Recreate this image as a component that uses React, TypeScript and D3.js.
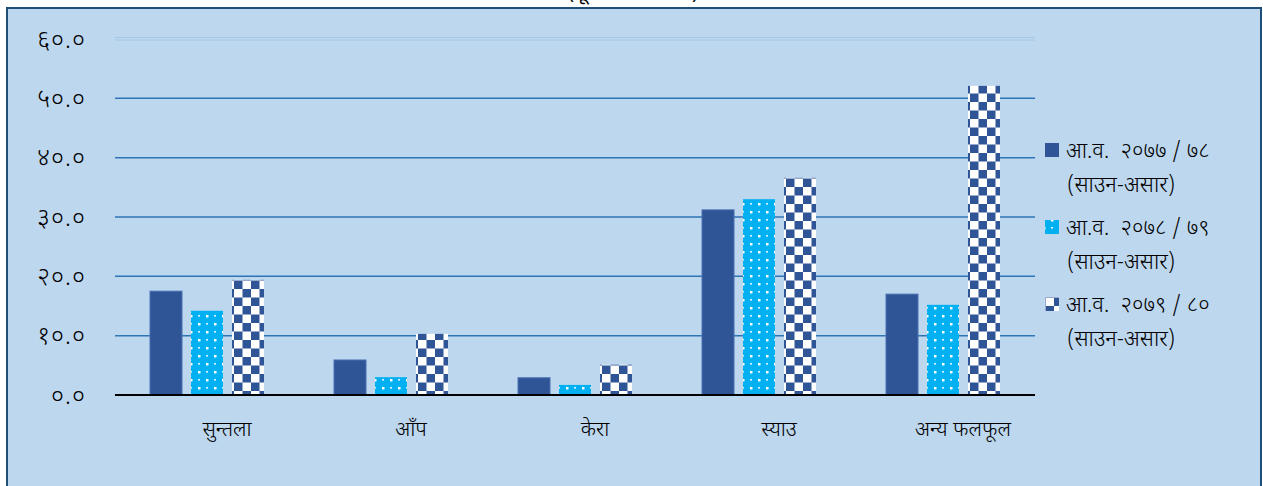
import React from "react";
import * as d3 from "d3";

const categories = ["सुन्तला", "आँप", "केरा", "स्याउ", "अन्य फलफूल"];
const seriesNames = [
  ["आ.व.  २०७७ / ७८", "(साउन-असार)"],
  ["आ.व.  २०७८ / ७९", "(साउन-असार)"],
  ["आ.व.  २०७९ / ८०", "(साउन-असार)"],
];
const series2077 = [17.5, 5.9, 2.9, 31.2, 17.0];
const series2078 = [14.2, 3.0, 1.7, 33.0, 15.2];
const series2079 = [19.4, 10.3, 5.1, 36.6, 52.1];
const yTicks = [0, 10, 20, 30, 40, 50, 60];
const yTickLabels = ["०.०", "१०.०", "२०.०", "३०.०", "४०.०", "५०.०", "६०.०"];

const W = 1263;
const H = 486;
const FONT = "'Noto Sans Devanagari', 'Lohit Devanagari', 'Mangal', 'Noto Sans', sans-serif";

export default function App() {
  const allSeries = [series2077, series2078, series2079];
  const x0 = d3.scaleBand<string>().domain(categories).range([115, 1035]).paddingInner(0).paddingOuter(0);
  const x1 = d3.scaleBand<number>().domain([0, 1, 2]).range([0, x0.bandwidth()]).paddingInner(0.2195).paddingOuter(0.854);
  const y = d3.scaleLinear().domain([0, 60]).range([395, 39]);
  const fills = ["#2F5597", "url(#dots)", "url(#checker)"];

  return (
    <svg width={W} height={H} style={{ position: "absolute", left: 0, top: 0, display: "block" }}>
      <defs>
        <pattern id="dots" patternUnits="userSpaceOnUse" width="16" height="16">
          <rect width="16" height="16" fill="#00B0F0" />
          <rect x="3" y="3" width="2.5" height="2.5" fill="#FFFFFF" />
          <rect x="11" y="11" width="2.5" height="2.5" fill="#FFFFFF" />
          <rect x="11" y="3" width="2" height="1.5" fill="#E8F8FF" />
          <rect x="3" y="11" width="2" height="1.5" fill="#E8F8FF" />
        </pattern>
        <pattern id="checker" patternUnits="userSpaceOnUse" width="17" height="17">
          <rect width="17" height="17" fill="#FFFFFF" />
          <rect x="0" y="8.5" width="8.5" height="8.5" fill="#2F5597" />
          <rect x="8.5" y="0" width="8.5" height="8.5" fill="#2F5597" />
        </pattern>
      </defs>
      <rect x={0} y={0} width={W} height={H} fill="#FFFFFF" />
      <text x={633} y={-1} textAnchor="middle" fontFamily={FONT} fontSize={20} fill="#000">(मूल्य रु. करोडमा)</text>
      <rect x={7} y={8} width={1254} height={H} fill="#BDD7EE" stroke="#1F4E79" strokeWidth={2} />

      {yTicks.map((t) =>
        t === 60 ? (
          <g key={t}>
            <line x1={115} x2={1035} y1={y(t) - 1.5} y2={y(t) - 1.5} stroke="#9DC3E6" strokeWidth={0.8} />
            <line x1={115} x2={1035} y1={y(t) + 1} y2={y(t) + 1} stroke="#9DC3E6" strokeWidth={0.8} />
          </g>
        ) : t === 0 ? null : (
          <line key={t} x1={115} x2={1035} y1={y(t)} y2={y(t)} stroke="#2E75B6" strokeWidth={1.5} />
        )
      )}
      {yTicks.map((t, i) => (
        <text key={"l" + t} x={86} y={y(t)} dy="0.35em" textAnchor="end" fontFamily={FONT} fontSize={25} letterSpacing={1} fontWeight={300} fill="#000">
          {yTickLabels[i]}
        </text>
      ))}

      {categories.map((c, ci) => (
        <g key={c} transform={`translate(${x0(c)},0)`}>
          {allSeries.map((s, si) => (
            <rect
              key={si}
              x={x1(si)}
              y={y(s[ci])}
              width={x1.bandwidth()}
              height={y(0) - y(s[ci])}
              fill={fills[si]}
              stroke={si === 0 ? "#4A6FB0" : "none"}
              strokeWidth={1}
            />
          ))}
        </g>
      ))}
      <line x1={115} x2={1035} y1={y(0)} y2={y(0)} stroke="#000" strokeWidth={2} />

      {categories.map((c) => (
        <text key={"c" + c} x={(x0(c) as number) + x0.bandwidth() / 2 + 20} y={436} textAnchor="middle" fontFamily={FONT} fontSize={21} fontWeight={300} fill="#000">
          {c}
        </text>
      ))}

      {seriesNames.map((n, i) => {
        const yy = 150 + i * 77;
        return (
          <g key={"lg" + i}>
            <rect x={1045} y={yy - 7} width={14} height={14} fill={fills[i]} />
            <text x={1066} y={yy} dy="0.35em" fontFamily={FONT} fontSize={22} fontWeight={300} fill="#000" style={{ whiteSpace: "pre" }}>{n[0]}</text>
            <text x={1067} y={yy + 34} dy="0.35em" fontFamily={FONT} fontSize={22} fontWeight={300} fill="#000">{n[1]}</text>
          </g>
        );
      })}
    </svg>
  );
}
